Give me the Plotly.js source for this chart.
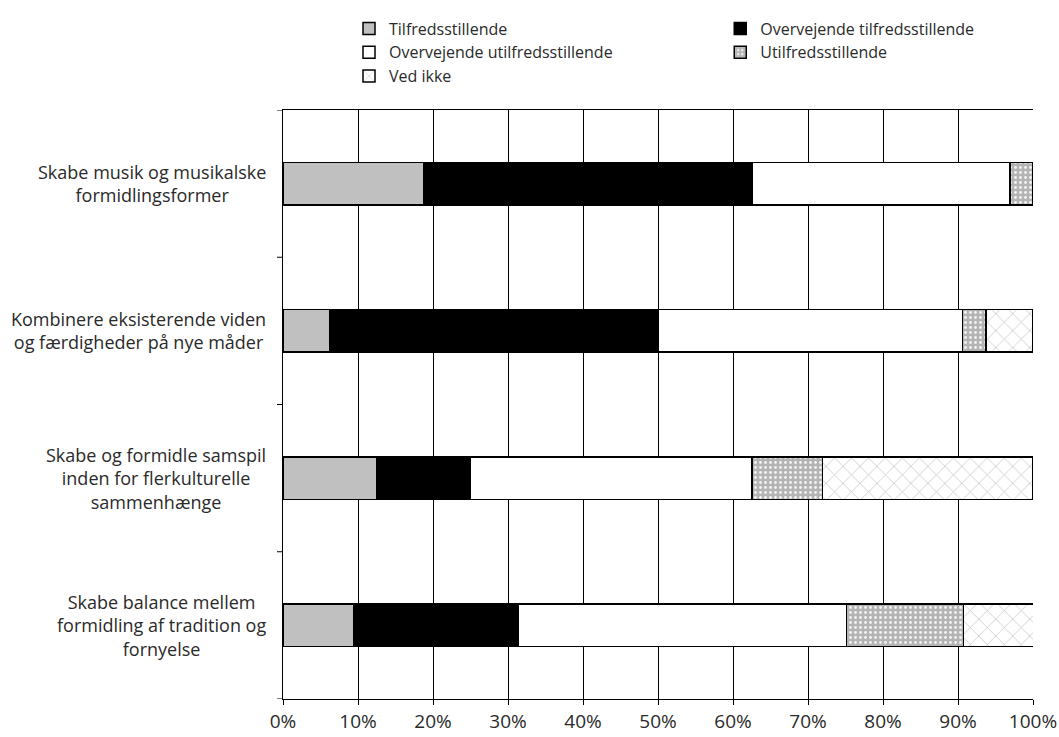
<!DOCTYPE html>
<html>
<head>
<meta charset="utf-8">
<script src="https://cdn.plot.ly/plotly-3.0.1.min.js"></script>
<style>body{margin:0;background:#fff}#chart{width:1059px;height:737px}</style>
</head>
<body>
<div id="chart"></div>
<script>
var categories = [
  "Skabe musik og musikalske<br>formidlingsformer",
  "Kombinere eksisterende viden<br>og færdigheder på nye måder",
  "Skabe og formidle samspil<br>inden for flerkulturelle<br>sammenhænge",
  "Skabe balance mellem<br>formidling af tradition og<br>fornyelse"
];
var seriesNames = ["Tilfredsstillende", "Overvejende tilfredsstillende", "Overvejende utilfredsstillende", "Utilfredsstillende", "Ved ikke"];
var tilfreds = [0.1875, 0.0625, 0.125, 0.094];
var overvejendeTilfreds = [0.4375, 0.4375, 0.125, 0.219];
var overvejendeUtilfreds = [0.344, 0.406, 0.375, 0.438];
var utilfreds = [0.031, 0.031, 0.094, 0.156];
var vedIkke = [0.0, 0.0625, 0.281, 0.094];
var xTickValues = [0,0.1,0.2,0.3,0.4,0.5,0.6,0.7,0.8,0.9,1.0];

var seriesValues = [tilfreds, overvejendeTilfreds, overvejendeUtilfreds, utilfreds, vedIkke];
var colors = ["#c0c0c0", "#000000", "#ffffff", "#b4b4b4", "#ffffff"];
var patterns = [
  {shape: ""},
  {shape: ""},
  {shape: ""},
  {shape: ".", fgcolor: "#f4f4f4", bgcolor: "#b4b4b4", size: 5, solidity: 0.25, fillmode: "replace"},
  {shape: "x", fgcolor: "#c4c4c4", bgcolor: "#ffffff", size: 12, solidity: 0.12, fillmode: "replace"}
];
// legend column for each series (two-column legend as in the original)
var legendColumn = ["legend", "legend2", "legend", "legend2", "legend"];
var yIdx = categories.map(function(c, i){ return i; });
var FONT = "Open Sans, sans-serif";
var TXT = "#2a2a2a";

var traces = seriesNames.map(function(name, i){
  return {
    type: "bar",
    orientation: "h",
    name: name,
    legend: legendColumn[i],
    y: yIdx,
    x: seriesValues[i],
    width: 0.29,
    marker: {color: colors[i], line: {color: "#000", width: 1.5}, pattern: patterns[i]},
    hoverinfo: "x+name"
  };
});

var annotations = categories.map(function(c, i){
  return {xref: "paper", yref: "y", x: 0, y: i, xanchor: "right", yanchor: "middle",
    xshift: -15, text: c, showarrow: false, align: "center",
    font: {family: FONT, size: 18, color: TXT}};
});

function legendBox(xp) {
  return {orientation: "v", x: xp, y: 1.1672,
    xanchor: "left", yanchor: "top", traceorder: "normal",
    bgcolor: "rgba(0,0,0,0)", borderwidth: 0,
    font: {family: FONT, size: 16, color: TXT}, itemwidth: 30, tracegroupgap: 0};
}

var layout = {
  width: 1059, height: 737,
  margin: {l: 283, r: 26, t: 101, b: 38},
  barmode: "stack",
  paper_bgcolor: "#fff", plot_bgcolor: "#fff",
  font: {family: FONT, size: 18, color: TXT},
  showlegend: true,
  legend: legendBox(0.088),
  legend2: legendBox(0.583),
  xaxis: {range: [0, 1], tickvals: xTickValues, tickformat: ".0%",
    tickfont: {family: FONT, size: 19, color: TXT},
    showgrid: true, gridcolor: "#000", gridwidth: 1,
    ticks: "outside", ticklen: 5, tickcolor: "#000",
    showline: true, linecolor: "#000", linewidth: 1, mirror: true,
    zeroline: false, fixedrange: true},
  yaxis: {range: [3.5, -0.5], tickvals: yIdx, tickmode: "array", type: "linear",
    showgrid: false, zeroline: false,
    showline: true, linecolor: "#000", linewidth: 1,
    ticks: "", showticklabels: false, fixedrange: true},
  shapes: [],
  annotations: annotations
};

// category boundary ticks on the y axis
for (var b = -0.5; b <= categories.length - 0.5; b += 1) {
  layout.shapes.push({type: "line", xref: "paper", yref: "y", x0: -0.008, x1: 0, y0: b, y1: b,
    line: {color: "#000", width: 1}});
}

Plotly.newPlot("chart", traces, layout, {displayModeBar: false});
</script>
</body>
</html>
